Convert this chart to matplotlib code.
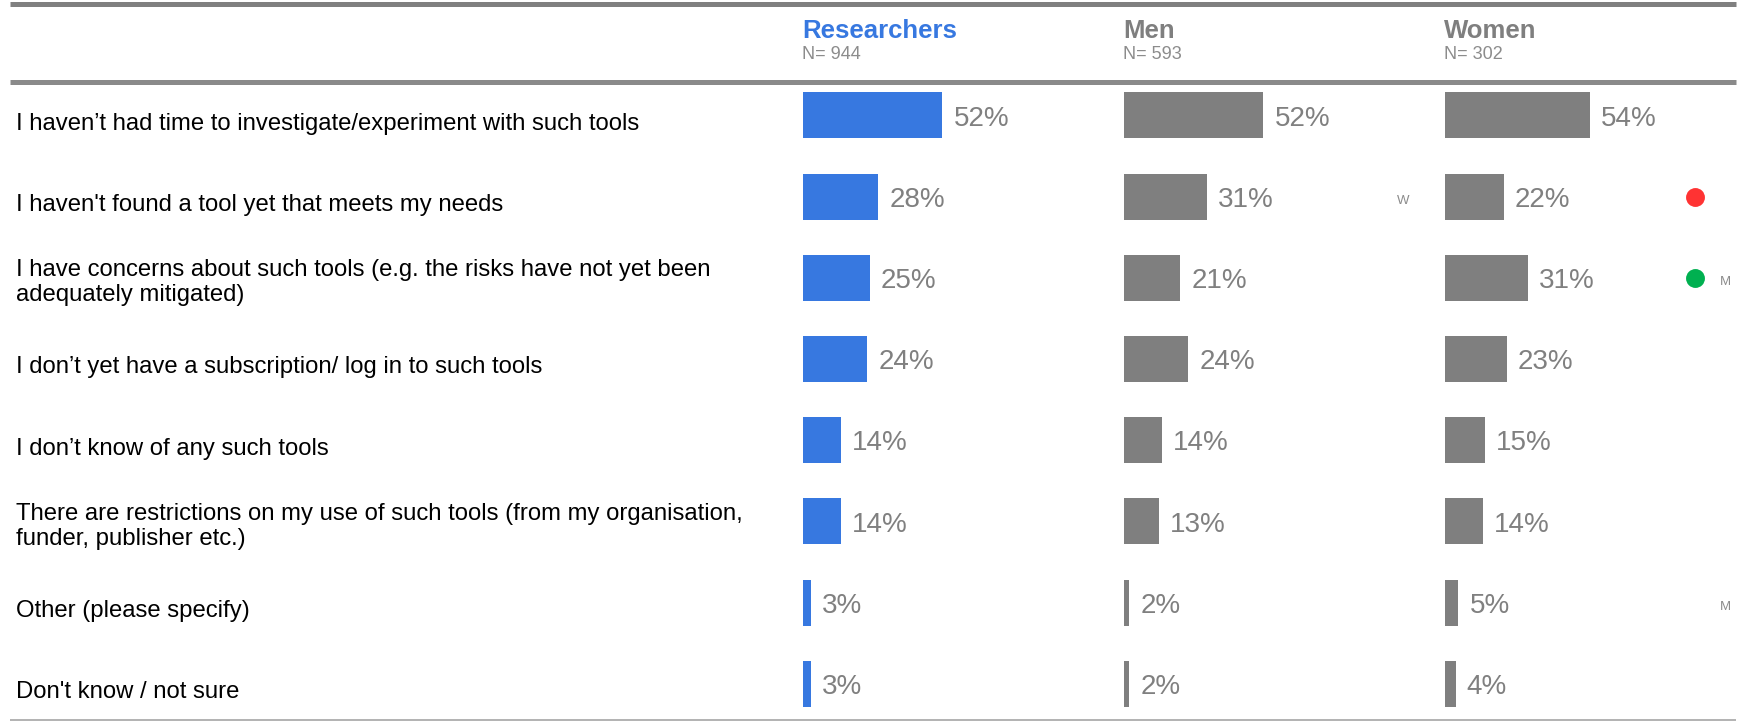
import matplotlib
matplotlib.use("Agg")
import matplotlib.pyplot as plt

plt.rcParams['font.family'] = ['Liberation Sans', 'DejaVu Sans']

# ---------------- data ----------------
categories = [
    "I haven\u2019t had time to investigate/experiment with such tools",
    "I haven't found a tool yet that meets my needs",
    "I have concerns about such tools (e.g. the risks have not yet been\nadequately mitigated)",
    "I don\u2019t yet have a subscription/ log in to such tools",
    "I don\u2019t know of any such tools",
    "There are restrictions on my use of such tools (from my organisation,\nfunder, publisher etc.)",
    "Other (please specify)",
    "Don't know / not sure",
]
groups = ["Researchers", "Men", "Women"]
group_n = ["N= 944", "N= 593", "N= 302"]
researchers = [52, 28, 25, 24, 14, 14, 3, 3]
men = [52, 31, 21, 24, 14, 13, 2, 2]
women = [54, 22, 31, 23, 15, 14, 5, 4]
# significance markers
men_letters = ["", "W", "", "", "", "", "", ""]
women_dots = [None, "low", "high", None, None, None, None, None]
women_letters = ["", "", "M", "", "", "", "M", ""]

# ---------------- style ----------------
W, H = 1742, 721
BLUE = "#3778e0"
GREY = "#7f7f7f"
TXT_GREY = "#808080"
dot_colors = {"low": "#ff3333", "high": "#00b050"}

row0, row_step = 115.3, 81.2
col_left = [803, 1124, 1445]
px_per_100 = 268

fig = plt.figure(figsize=(W / 100, H / 100), dpi=100)
ax0 = fig.add_axes([0, 0, 1, 1])
ax0.set_xlim(0, W)
ax0.set_ylim(H, 0)
ax0.axis("off")

# horizontal rules
ax0.plot([10, 1736], [3.5, 3.5], color="#808080", lw=3.6, solid_capstyle="butt")
ax0.plot([10, 1736], [82, 82], color="#8a8a8a", lw=3.6, solid_capstyle="butt")
ax0.plot([10, 1736], [720, 720], color="#a6a6a6", lw=1.2, solid_capstyle="butt")

n = len(categories)
row_y = [row0 + row_step * i for i in range(n)]

# category labels
for y, lab in zip(row_y, categories):
    off = 8.5 if "\n" not in lab else 5
    ax0.text(16, y + off, lab, fontsize=17.2, color="black", va="center", ha="left",
             linespacing=1.17)

series = [researchers, men, women]
colors = [BLUE, GREY, GREY]
ylo = (H - row0) / row_step
yhi = -row0 / row_step
for gi, (vals, col) in enumerate(zip(series, colors)):
    ax = fig.add_axes([col_left[gi] / W, 0, px_per_100 / W, 1])
    ax.set_xlim(0, 100)
    ax.set_ylim(ylo, yhi)
    ax.axis("off")
    ax.patch.set_alpha(0)
    idx = list(range(n))
    ax.barh(idx, vals, height=46 / row_step, color=col, left=0)
    for i, v in zip(idx, vals):
        ax.annotate(f"{v}%", xy=(v, i), xytext=(8, -2.4), textcoords="offset points",
                    fontsize=20, color=TXT_GREY, va="center", ha="left")
    # headers
    ax0.text(col_left[gi] - 1, 38.3, groups[gi], fontsize=18.5, fontweight="bold",
             color=(BLUE if gi == 0 else "#7f7f7f"), va="baseline", ha="left")
    ax0.text(col_left[gi] - 1, 59.3, group_n[gi], fontsize=13, color="#8c8c8c",
             va="baseline", ha="left")

# significance markers
for i, let in enumerate(men_letters):
    if let:
        ax0.text(col_left[1] + 273, row_y[i] + 5, let, fontsize=9.5, color="#8c8c8c",
                 va="center", ha="left")
for i, d in enumerate(women_dots):
    if d:
        ax0.scatter([col_left[2] + 250], [row_y[i]], s=185, color=dot_colors[d],
                    marker="o", linewidths=0)
for i, let in enumerate(women_letters):
    if let:
        ax0.text(col_left[2] + 275, row_y[i] + 4, let, fontsize=9.5, color="#8c8c8c",
                 va="center", ha="left")

fig.savefig("out.png", dpi=100)
